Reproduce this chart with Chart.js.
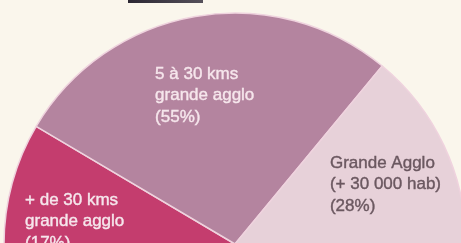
<!DOCTYPE html>
<html>
<head>
<meta charset="utf-8">
<script src="https://cdn.jsdelivr.net/npm/chart.js@4.4.0/dist/chart.umd.min.js"></script>
<style>
html, body { margin: 0; padding: 0; background: #faf6ec; overflow: hidden; }
#wrap { position: relative; width: 461px; height: 250px; }
#tab { position: absolute; left: 128px; top: 0; width: 75px; height: 3px; background: linear-gradient(90deg, #2b2733, #55505a); }
</style>
</head>
<body>
<div id="wrap">
    <div id="tab"></div>
    <canvas id="pieChart"></canvas>
</div>
<script>
var categories = ["+ de 30 kms grande agglo", "5 à 30 kms grande agglo", "Grande Agglo (+ 30 000 hab)"];
var shares = [17, 55, 28];
var labelLines = [
    ["+ de 30 kms", "grande agglo", "(17%)"],
    ["5 à 30 kms", "grande agglo", "(55%)"],
    ["Grande Agglo", "(+ 30 000 hab)", "(28%)"],
];

var pieChart = {};

// text blocks placed relative to the arc centre, in units of the radius
pieChart.sliceLabels = {
    id: "sliceLabels",
    afterDatasetsDraw: function(chart, args, opts) {
        const ctx = chart.ctx;
        const arcs = chart.getDatasetMeta(0).data;
        ctx.save();
        ctx.font = opts.font;
        ctx.textBaseline = "middle";
        ctx.textAlign = "left";
        ctx.lineWidth = 0.4;
        arcs.forEach((arc, i) => {
            const anchor = opts.anchors[i];
            const x = arc.x + anchor[0] * arc.outerRadius;
            let y = arc.y + anchor[1] * arc.outerRadius;
            ctx.fillStyle = opts.colors[i];
            ctx.strokeStyle = opts.colors[i];
            labelLines[i].forEach((line) => {
                ctx.fillText(line, x, y);
                ctx.strokeText(line, x, y);
                y += opts.lineHeight;
            });
        });
        ctx.restore();
    },
};

pieChart.CONFIG = {
    type: "pie",
    data: {
        labels: categories,
        datasets: [
            {
                data: shares,
                backgroundColor: ["#c43d6e", "#b4849f", "#e7d1d9"],
                borderColor: "#efd3de",
                borderWidth: 1.5,
            },
        ],
    },
    options: {
        responsive: true,
        maintainAspectRatio: false,
        animation: false,
        rotation: -90,
        circumference: 180,
        radius: 231,
        layout: {
            padding: { left: 9, right: 0, top: 13, bottom: 6 },
        },
        plugins: {
            legend: { display: false },
            tooltip: { enabled: false },
            sliceLabels: {
                font: "17px 'Liberation Sans', Arial, sans-serif",
                lineHeight: 21.5,
                colors: ["#f6e6ec", "#f6e6ec", "#6b5860"],
                anchors: [[-0.909, -0.190], [-0.346, -0.736], [0.411, -0.351]],
            },
        },
    },
    plugins: [pieChart.sliceLabels],
};

pieChart.element = document.getElementById("pieChart");
pieChart.chart = new Chart(pieChart.element, pieChart.CONFIG);
</script>
</body>
</html>
